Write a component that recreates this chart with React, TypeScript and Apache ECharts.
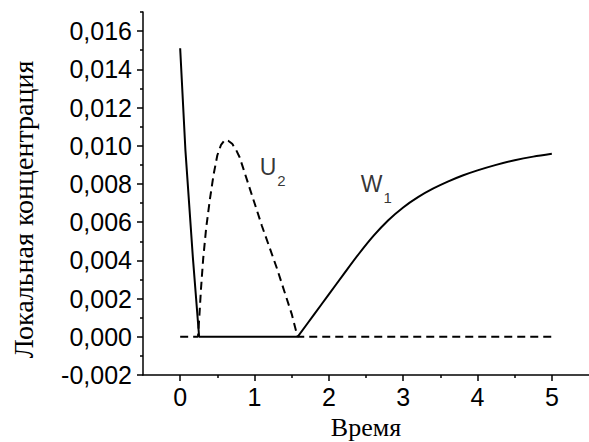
import React, { useEffect, useRef } from 'react';
import * as echarts from 'echarts';

// Solid curve, part 1: initial decay and zero plateau
const decayT = [0, 0.07, 0.17, 0.255, 1.58];
const decayV = [0.0151, 0.0098, 0.0042, 0, 0];

// Solid curve, part 2: W1 growth
const w1T = [1.58, 1.8, 2.0, 2.2, 2.4, 2.6, 2.8, 3.0, 3.2, 3.4, 3.6, 3.8, 4.0, 4.25, 4.5, 4.75, 5.0];
const w1V = [0, 0.00116, 0.00222, 0.00328, 0.00432, 0.00528, 0.0061, 0.00677, 0.00731, 0.00775, 0.00812, 0.00844, 0.00871, 0.009, 0.00924, 0.00943, 0.00958];

// Dashed curve (U2 hump, zero elsewhere)
const dashT = [0, 0.24, 0.26, 0.28, 0.31, 0.35, 0.4, 0.45, 0.5, 0.55, 0.6, 0.65, 0.7, 0.75, 0.8, 0.85, 0.9, 1.0, 1.1, 1.2, 1.3, 1.4, 1.5, 1.58, 5.0];
const dashV = [0, 0, 0.0012, 0.0025, 0.0041, 0.0057, 0.0072, 0.0085, 0.0095, 0.01005, 0.0103, 0.01025, 0.0101, 0.0098, 0.0094, 0.0088, 0.0082, 0.007, 0.0058, 0.0047, 0.0036, 0.0024, 0.0012, 0, 0];

// Curve annotations
const annotNames = ['U', 'W'];
const annotSubs = ['2', '1'];
const annotT = [1.07, 2.43];
const annotV = [0.0089, 0.0080];

// Ticks
const xMajor = [0, 1, 2, 3, 4, 5];
const xMinor = [0.5, 1.5, 2.5, 3.5, 4.5];
const yMajor = [-0.002, 0, 0.002, 0.004, 0.006, 0.008, 0.01, 0.012, 0.014, 0.016];
const yMinor = [-0.001, 0.001, 0.003, 0.005, 0.007, 0.009, 0.011, 0.013, 0.015, 0.017];

const xTitle = 'Время';
const yTitle = 'Локальная концентрация';

export default function App() {
  const ref = useRef<HTMLDivElement>(null);
  useEffect(() => {
    const chart = echarts.init(ref.current!, null, { renderer: 'svg' });
    const axisLineStyle = { color: '#000', width: 1.5 };
    const sans = '"Liberation Sans", Arial, sans-serif';
    const serif = '"Liberation Serif", "Times New Roman", serif';
    const solid = { color: '#000', width: 2 };
    chart.setOption({
      animation: false,
      backgroundColor: '#fff',
      grid: { left: 143, right: 0, top: 12, bottom: 67, containLabel: false, outerBoundsMode: 'none' },
      xAxis: [
        {
          type: 'value', min: -0.5, max: 5.5, position: 'bottom',
          axisLine: { onZero: false, lineStyle: axisLineStyle },
          axisTick: { customValues: xMajor, length: 6, lineStyle: axisLineStyle },
          axisLabel: { customValues: xMajor, color: '#000', fontFamily: sans, fontSize: 25, margin: 9 },
          splitLine: { show: false },
          name: xTitle, nameLocation: 'middle', nameGap: 38,
          nameTextStyle: { fontFamily: serif, fontSize: 26, color: '#000', lineHeight: 28 },
        },
        {
          type: 'value', min: -0.5, max: 5.5, position: 'bottom',
          axisLine: { show: false, onZero: false },
          axisTick: { customValues: xMinor, length: 3, lineStyle: axisLineStyle },
          axisLabel: { show: false },
          splitLine: { show: false },
        },
      ],
      yAxis: [
        {
          type: 'value', min: -0.002, max: 0.017, position: 'left',
          axisLine: { onZero: false, lineStyle: axisLineStyle },
          axisTick: { customValues: yMajor, length: 6, lineStyle: axisLineStyle },
          axisLabel: {
            customValues: yMajor, color: '#000', fontFamily: sans, fontSize: 25, margin: 11,
            formatter: (v: number) => v.toFixed(3).replace('.', ','),
          },
          splitLine: { show: false },
          name: yTitle, nameLocation: 'middle', nameGap: 106,
          nameTextStyle: { fontFamily: serif, fontSize: 28, color: '#000', padding: [0, 32, 0, 0] },
        },
        {
          type: 'value', min: -0.002, max: 0.017, position: 'left',
          axisLine: { show: false, onZero: false },
          axisTick: { customValues: yMinor, length: 3, lineStyle: axisLineStyle },
          axisLabel: { show: false },
          splitLine: { show: false },
        },
      ],
      series: [
        {
          type: 'line', silent: true, showSymbol: false, smooth: false,
          data: decayT.map((t, i) => [t, decayV[i]]),
          lineStyle: solid,
        },
        {
          type: 'line', silent: true, showSymbol: false, smooth: 0.3,
          data: w1T.map((t, i) => [t, w1V[i]]),
          lineStyle: solid,
        },
        {
          type: 'line', silent: true, showSymbol: false, smooth: false,
          data: dashT.map((t, i) => [t, dashV[i]]),
          lineStyle: { color: '#000', width: 2, type: [8, 5] },
        },
        {
          type: 'scatter', silent: true, symbolSize: 0,
          data: annotT.map((t, i) => ({ value: [t, annotV[i]], name: annotNames[i] })),
          label: {
            show: true, position: 'inside', align: 'left', verticalAlign: 'middle',
            formatter: (p: any) => `{a|${annotNames[p.dataIndex]}}{b|${annotSubs[p.dataIndex]}}`,
            rich: {
              a: { fontFamily: sans, fontSize: 23, color: '#000', lineHeight: 26 },
              b: { fontFamily: sans, fontSize: 15, color: '#000', verticalAlign: 'bottom', lineHeight: 15, padding: [0, 0, -8, 1] },
            },
          },
        },
      ],
    });
    return () => chart.dispose();
  }, []);
  return <div ref={ref} style={{ position: 'fixed', left: 0, top: 0, width: 589, height: 442, background: '#fff' }} />;
}
